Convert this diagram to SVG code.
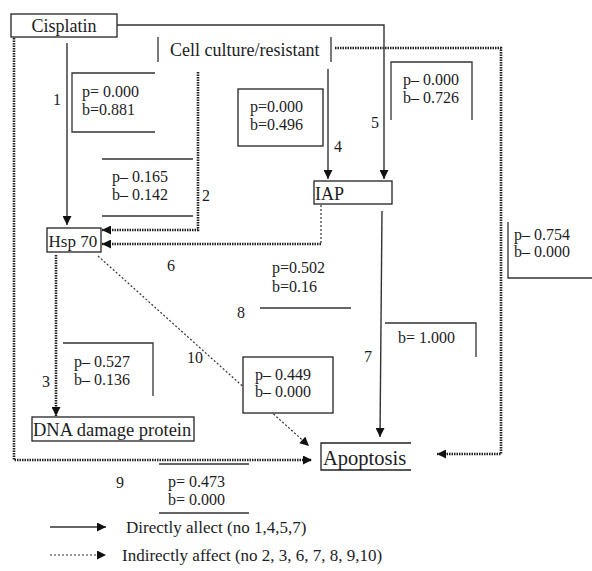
<svg xmlns="http://www.w3.org/2000/svg" width="592" height="571" viewBox="0 0 592 571">
<style>
text{font-family:"Liberation Serif","Times New Roman",serif;fill:#1c1c24}
.v{font-size:16px}
.n{font-size:16px}
.node{font-size:18px}
.box{fill:#fff;stroke:#222;stroke-width:1.3}
.br{fill:none;stroke:#333;stroke-width:1.3}
.solid{fill:none;stroke:#333;stroke-width:1.4}
.dot{fill:none;stroke:#222;stroke-width:2.6;stroke-dasharray:1.5 1}
.thin{fill:none;stroke:#333;stroke-width:1.2;stroke-dasharray:2 2}
</style>
<defs>
<marker id="ah" viewBox="0 0 10 10" refX="10" refY="5" markerWidth="10" markerHeight="9" markerUnits="userSpaceOnUse" orient="auto"><path d="M0,0 L10,5 L0,10 z" fill="#111"/></marker>
</defs>
<rect width="592" height="571" fill="#fff"/>

<g id="connectors">
<!-- 9: Cisplatin -> Apoptosis -->
<path class="dot" d="M14,38 V460 H312" marker-end="url(#ah)"/>
<!-- 8: Cell culture -> Apoptosis (right) -->
<path class="dot" d="M335,48 H501 V454 H437" marker-end="url(#ah)"/>
<!-- 5: Cisplatin -> IAP -->
<path class="solid" d="M117,25 H384 V179" marker-end="url(#ah)"/>
<!-- 4: Cell culture -> IAP -->
<path class="solid" d="M328,69 V179" marker-end="url(#ah)"/>
<!-- 1: Cisplatin -> Hsp70 -->
<path class="solid" d="M67,43 V225" marker-end="url(#ah)"/>
<!-- 2: Cell culture -> Hsp70 -->
<path class="dot" d="M198,72 V230 H102" marker-end="url(#ah)"/>
<!-- 6: IAP -> Hsp70 -->
<path class="thin" d="M321,205 V244"/>
<path class="dot" d="M321,244 H102" marker-end="url(#ah)"/>
<!-- 3: Hsp70 -> DNA damage protein -->
<path class="dot" d="M56,255 V416" marker-end="url(#ah)"/>
<!-- 10: Hsp70 -> Apoptosis -->
<path class="thin" d="M98,256 L309,446" marker-end="url(#ah)"/>
<!-- 7: IAP -> Apoptosis -->
<path class="solid" d="M382,211 L380,437" marker-end="url(#ah)"/>
</g>

<g id="cisplatin"><rect class="box" x="11" y="14" width="106" height="23"/><text class="node" x="64" y="32" text-anchor="middle">Cisplatin</text></g>
<g id="cell-culture"><path class="br" d="M158,37 V62 M331,37 V62"/><text class="node" x="170" y="56">Cell culture/resistant</text></g>
<g id="iap"><rect class="box" x="314" y="181" width="78" height="23"/><text class="node" x="315" y="200">IAP</text></g>
<g id="hsp70"><rect class="box" x="47" y="228" width="54" height="24"/><text class="node" x="48.5" y="247" style="font-size:17px">Hsp 70</text></g>
<g id="dna"><rect class="box" x="32" y="417" width="162" height="24"/><text class="node" x="33" y="436" style="font-size:18.5px">DNA damage protein</text></g>
<g id="apoptosis"><path class="br" d="M411,443 H321 V470 H411" style="stroke:#222"/><text class="node" x="323" y="465" style="font-size:20.5px">Apoptosis</text></g>

<g id="stat1"><path class="br" d="M155,73 H72 V132 H155"/><text class="v" x="82" y="97">p= 0.000</text><text class="v" x="82" y="115">b=0.881</text></g>
<g id="stat4"><rect class="box" x="238" y="89" width="85" height="57"/><text class="v" x="250" y="112">p=0.000</text><text class="v" x="250" y="130">b=0.496</text></g>
<g id="stat5"><path class="br" d="M391,120 V62 H472 V120"/><text class="v" x="403" y="85">p– 0.000</text><text class="v" x="403" y="103">b– 0.726</text></g>
<g id="stat2"><path class="br" d="M102,159 H193 M102,216 H193"/><text class="v" x="112" y="182">p– 0.165</text><text class="v" x="112" y="200">b– 0.142</text></g>
<g id="stat-right"><path class="br" d="M508,222 V278 H592"/><text class="v" x="514" y="240">p– 0.754</text><text class="v" x="514" y="257">b– 0.000</text></g>
<g id="stat8"><text class="v" x="272" y="273">p=0.502</text><text class="v" x="272" y="292">b=0.16</text><path class="br" d="M260,308 H351"/></g>
<g id="stat7"><path class="br" d="M385,323 H476 V357"/><text class="v" x="398" y="343">b= 1.000</text></g>
<g id="stat3"><path class="br" d="M63,343 H153 V396"/><text class="v" x="74" y="367">p– 0.527</text><text class="v" x="74" y="385">b– 0.136</text></g>
<g id="stat10"><rect class="box" x="243" y="357" width="90" height="56"/><text class="v" x="255" y="380">p– 0.449</text><text class="v" x="255" y="397">b– 0.000</text></g>
<g id="stat9"><path class="br" d="M159,464 H249 M159,513 H249"/><text class="v" x="168" y="487">p= 0.473</text><text class="v" x="168" y="505">b= 0.000</text></g>

<g id="labels">
<text class="n" x="53" y="105">1</text>
<text class="n" x="202" y="201">2</text>
<text class="n" x="42" y="387">3</text>
<text class="n" x="334" y="152">4</text>
<text class="n" x="371" y="128">5</text>
<text class="n" x="167" y="271">6</text>
<text class="n" x="364" y="362">7</text>
<text class="n" x="237" y="318">8</text>
<text class="n" x="116" y="488">9</text>
<text class="n" x="187" y="363">10</text>
</g>

<g id="legend">
<path class="solid" d="M50,527 H106" marker-end="url(#ah)"/>
<path class="thin" d="M50,555 H106" marker-end="url(#ah)"/>
<text x="126" y="533" style="font-size:17px">Directly allect (no 1,4,5,7)</text>
<text x="122" y="561" style="font-size:17px">Indirectly affect (no 2, 3, 6, 7, 8, 9,10)</text>
</g>
</svg>
